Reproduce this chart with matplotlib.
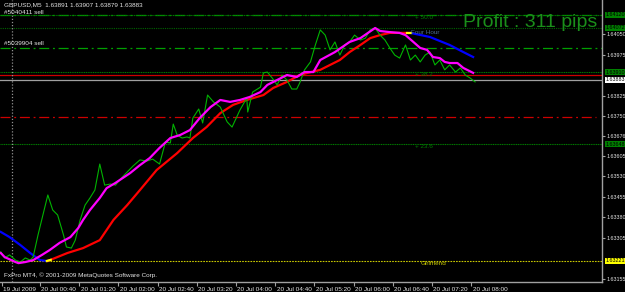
import matplotlib
matplotlib.use("Agg")
import matplotlib.pyplot as plt
import matplotlib.transforms as mtransforms

plt.rcParams["font.family"] = ["Liberation Sans", "DejaVu Sans"]

# ---------------- data ----------------
# time in minutes from 20 Jul 00:00 (approx.), price
close_t = [0, 4, 9, 15, 20, 25, 30, 33, 38, 43, 48, 53, 58, 64, 67, 72, 76, 81, 86, 91, 96,
           101, 106, 112, 117, 122, 129, 135, 142, 149, 155, 162, 168, 173, 176, 180, 185,
           190, 193, 196, 202, 206, 211, 217, 224, 231, 236, 244, 251, 252, 257, 265, 268,
           272, 277, 282, 287, 292, 297, 302, 305, 310, 316, 321, 326, 331, 336, 341, 346,
           351, 356, 361, 367, 372, 377, 382, 387, 392, 397, 402, 407, 413, 418, 423, 428,
           433, 438, 443, 448, 453, 458, 464, 469, 474, 479, 484]
close_p = [1.63254, 1.63232, 1.63243, 1.63224, 1.63217, 1.63232, 1.63224, 1.63235, 1.63316,
           1.63389, 1.63462, 1.63407, 1.63389, 1.63316, 1.63272, 1.63268, 1.63297, 1.63371,
           1.63425, 1.63451, 1.63480, 1.63575, 1.63498, 1.63502, 1.63498, 1.63520, 1.63546,
           1.63568, 1.63590, 1.63586, 1.63593, 1.63575, 1.63655, 1.63652, 1.63721, 1.63681,
           1.63670, 1.63674, 1.63670, 1.63743, 1.63776, 1.63725, 1.63827, 1.63802, 1.63783,
           1.63729, 1.63710, 1.63772, 1.63816, 1.63765, 1.63838, 1.63856, 1.63908, 1.63911,
           1.63889, 1.63864, 1.63900, 1.63882, 1.63849, 1.63849, 1.63871, 1.63919, 1.63948,
           1.64010, 1.64065, 1.64046, 1.63992, 1.64021, 1.63973, 1.64010, 1.64021, 1.64046,
           1.64028, 1.64035, 1.64065, 1.64072, 1.64046, 1.64028, 1.63999, 1.63973, 1.63962,
           1.64010, 1.63955, 1.63973, 1.63948, 1.63973, 1.63984, 1.63937, 1.63955, 1.63919,
           1.63937, 1.63911, 1.63926, 1.63900, 1.63889, 1.63875]

fast_t = [0, 4, 15, 18, 25, 33, 42, 50, 60, 71, 79, 84, 91, 101, 108, 117, 132, 142, 152,
          162, 173, 183, 193, 203, 214, 224, 234, 244, 254, 265, 272, 282, 292, 302, 310,
          319, 326, 341, 356, 367, 382, 387, 397, 407, 413, 421, 428, 435, 441, 448, 453,
          458, 466, 472, 482]
fast_p = [1.63250, 1.63235, 1.63217, 1.63213, 1.63217, 1.63224, 1.63243, 1.63261, 1.63287,
          1.63308, 1.63341, 1.63371, 1.63407, 1.63451, 1.63487, 1.63506, 1.63542, 1.63571,
          1.63597, 1.63634, 1.63670, 1.63681, 1.63699, 1.63743, 1.63783, 1.63809, 1.63802,
          1.63809, 1.63820, 1.63838, 1.63864, 1.63882, 1.63900, 1.63893, 1.63911, 1.63911,
          1.63955, 1.63984, 1.64021, 1.64035, 1.64072, 1.64061, 1.64057, 1.64054, 1.64046,
          1.64021, 1.63999, 1.63992, 1.63966, 1.63962, 1.63948, 1.63944, 1.63944, 1.63926,
          1.63908]

slow_t = [48, 68, 84, 101, 115, 129, 142, 159, 180, 196, 210, 224, 237, 251, 268, 278, 292,
          305, 313, 326, 336, 346, 356, 367, 377, 387, 397, 407, 415]
slow_p = [1.63221, 1.63250, 1.63268, 1.63297, 1.63371, 1.63425, 1.63480, 1.63553, 1.63615,
          1.63670, 1.63710, 1.63761, 1.63791, 1.63809, 1.63827, 1.63853, 1.63875, 1.63900,
          1.63908, 1.63919, 1.63937, 1.63955, 1.63984, 1.64010, 1.64035, 1.64046, 1.64054,
          1.64054, 1.64054]

h4_early_t = [0, 9, 20, 30, 40, 47]
h4_early_p = [1.63327, 1.63308, 1.63279, 1.63250, 1.63224, 1.63221]
h4_late_t = [418, 438, 458, 472, 482]
h4_late_p = [1.64054, 1.64039, 1.64010, 1.63984, 1.63966]
yellow_early_t = [47, 51]
yellow_early_p = [1.63221, 1.63225]
yellow_late_t = [415, 419]
yellow_late_p = [1.64054, 1.64054]

tick_pos = [1, 40, 80, 120, 160, 200, 240, 280, 320, 360, 400, 440, 480]
tick_labels = ["19 Jul 2009", "20 Jul 00:40", "20 Jul 01:20", "20 Jul 02:00", "20 Jul 02:40",
               "20 Jul 03:20", "20 Jul 04:00", "20 Jul 04:40", "20 Jul 05:20", "20 Jul 06:00",
               "20 Jul 06:40", "20 Jul 07:20", "20 Jul 08:00"]
price_ticks = [1.64050, 1.63975, 1.63825, 1.63750, 1.63676, 1.63605, 1.63530, 1.63455,
               1.63380, 1.63305, 1.63155]
day_sep = 11

fib_levels = [1.64120, 1.63910, 1.63648]
fib_names = ["50.0", "38.2", "23.6"]
order1_price = 1.64120
order2_price = 1.63999
tp_price = 1.64072
red_line = 1.63900
bid = 1.63883
red_dashdot = 1.63747
girlfriend = 1.63221

# ---------------- figure ----------------
W, H = 625, 292
fig = plt.figure(figsize=(W / 100, H / 100), dpi=100, facecolor="black")
ax = fig.add_axes([0 / W, 10 / H, 602 / W, 282 / H], facecolor="black")
ax.set_xlim(-0.8, 613.5)
ax.set_ylim(1.631441, 1.641742)

fs = 4.6
fsr = 3.9
txtcol = "#e4e4e4"

# horizontal lines
ax.axhline(order1_price, color="#00a000", lw=0.9, ls=(0, (8, 3, 1.5, 3)))
ax.axhline(tp_price, color="#006400", lw=0.8, ls=(0, (1, 1)))
ax.axhline(order2_price, color="#00a000", lw=0.9, ls=(0, (8, 3, 1.5, 3)))
for lv in fib_levels:
    ax.axhline(lv, color="#007a00", lw=0.8, ls=(0, (1, 0.6)))
ax.axhline(red_line, color="#cc0000", lw=0.9)
ax.axhline(bid, color="#a0a0a0", lw=0.9)
ax.axhline(red_dashdot, xmax=0.99, color="#cc0000", lw=0.9, ls=(0, (8, 3, 1.5, 3)))
ax.axhline(girlfriend, color="#c8c800", lw=0.8, ls=(0, (1.5, 1)))
ax.axvline(day_sep, color="#909090", lw=0.9, ls=(0, (1, 1.5)))

# series
ax.plot(h4_early_t, h4_early_p, color="#0000ff", lw=1.6)
ax.plot(h4_late_t, h4_late_p, color="#0000ff", lw=1.6)
ax.plot(slow_t, slow_p, color="#ff0000", lw=1.6)
ax.plot(yellow_early_t, yellow_early_p, color="#ffff00", lw=1.6)
ax.plot(yellow_late_t, yellow_late_p, color="#ffff00", lw=1.6)
ax.plot(close_t, close_p, color="#00b400", lw=0.8)
ax.plot(fast_t, fast_p, color="#ff00ff", lw=1.6)

# spines / ticks
for s in ["left", "top"]:
    ax.spines[s].set_visible(False)
for s in ["right", "bottom"]:
    ax.spines[s].set_color("#a0a0a0")
    ax.spines[s].set_linewidth(1)
ax.yaxis.tick_right()
ax.set_yticks(price_ticks)
ax.set_yticklabels([f"{v:.5f}" for v in price_ticks])
ax.tick_params(axis="y", colors="#a0a0a0", labelcolor=txtcol, labelsize=fsr, length=2,
               width=0.8, pad=1.0)
ax.set_xticks(tick_pos)
ax.set_xticklabels(tick_labels, ha="left")
ax.tick_params(axis="x", colors="#a0a0a0", labelcolor=txtcol, labelsize=fs, length=3,
               width=0.8, pad=0.6)
for lab in ax.get_xticklabels():
    lab.set_transform(lab.get_transform() + mtransforms.ScaledTranslation(1.5 / 100, 0, fig.dpi_scale_trans))

# price boxes on the right axis
tr = mtransforms.blended_transform_factory(ax.transAxes, ax.transData)
def box(price, fc, tc="black"):
    ax.text(1.0055, price, f"{price:.5f}", transform=tr, fontsize=fsr, color=tc,
            va="center", ha="left", clip_on=False,
            bbox=dict(boxstyle="square,pad=0.1", fc=fc, ec="none"))
box(order1_price, "#008000")
box(tp_price, "#008000")
box(fib_levels[1], "#008000")
box(fib_levels[2], "#008000")
box(bid, "white")
box(girlfriend, "#ffff00")

# text objects
ax.text(3, 1.64158, "GBPUSD,M5  1.63891 1.63907 1.63879 1.63883", fontsize=fs, color=txtcol,
        va="center", ha="left")
ax.text(3, 1.64128, "#5040411 sell", fontsize=fs, color=txtcol, va="center", ha="left")
ax.text(3, 1.64014, "#5039904 sell", fontsize=fs, color=txtcol, va="center", ha="left")
ax.text(423, fib_levels[0], "+ " + fib_names[0], fontsize=fs, color="#007a00", va="top", ha="left")
ax.text(423, fib_levels[1], "+ " + fib_names[1], fontsize=fs, color="#007a00", va="top", ha="left")
ax.text(423, fib_levels[2], "+ " + fib_names[2], fontsize=fs, color="#007a00", va="top", ha="left")
ax.text(419, 1.64054, "Four Hour", fontsize=fs, color="#4a6a90", va="center", ha="left")
ax.text(428, girlfriend, "Girlfriend", fontsize=fs, color="#c8c800", va="top", ha="left")
ax.text(472, 1.640755, "Profit : 311 pips", fontsize=14, family="Liberation Sans",
        color="#1a8f1a", va="baseline", ha="left")
ax.text(3, 1.63170, "FxPro MT4, \u00a9 2001-2009 MetaQuotes Software Corp.", fontsize=fs,
        color=txtcol, va="center", ha="left")

fig.savefig("out.png", dpi=100, facecolor="black")
